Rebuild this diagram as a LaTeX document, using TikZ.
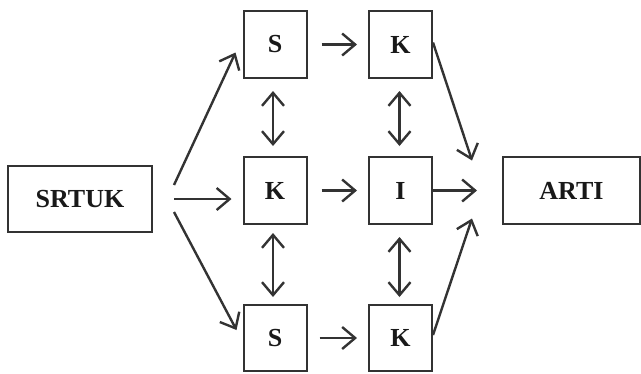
\documentclass[tikz,border=0pt]{standalone}
\usepackage{fontspec}
\setmainfont{Liberation Serif}
\usetikzlibrary{arrows.meta}
\definecolor{ink}{HTML}{333333}
\begin{document}
\begin{tikzpicture}[x=1pt,y=-1pt,
  box/.style={draw=ink,line width=2pt,fill=white,inner sep=0pt,
    font=\fontsize{26}{26}\selectfont\bfseries,text=black!90},
  tip/.style={Straight Barb[length=13pt,width=22pt,line width=2.4pt]},
  arr/.style={draw=ink,line width=2.4pt,-{Straight Barb[length=13pt,width=22pt]}},
  darr/.style={draw=ink,line width=2.4pt,{Straight Barb[length=13pt,width=22pt]}-{Straight Barb[length=13pt,width=22pt]}}
]
\useasboundingbox (0,0) rectangle (641,373);

% boxes
\node[box,minimum width=144pt,minimum height=66pt] (srtuk) at (80,199) {SRTUK};
\node[box,minimum width=63pt,minimum height=67pt] (s1) at (275,44.5) {S};
\node[box,minimum width=63pt,minimum height=67pt] (k1) at (400.5,44.5) {K};
\node[box,minimum width=63pt,minimum height=67pt] (k2) at (275,190.5) {K};
\node[box,minimum width=63pt,minimum height=67pt] (i2) at (400.5,190.5) {I};
\node[box,minimum width=63pt,minimum height=66pt] (s3) at (275,338) {S};
\node[box,minimum width=63pt,minimum height=66pt] (k3) at (400.5,338) {K};
\node[box,minimum width=137pt,minimum height=67pt] (arti) at (571.5,190.5) {ARTI};

% fan-out from SRTUK
\draw[arr] ([xshift=21pt,yshift=14pt]srtuk.east) -- ([xshift=-7pt,yshift=-8pt]s1.west);
\draw[arr,shorten <=21pt,shorten >=11pt] (srtuk.east) -- (srtuk.east -| k2.west);
\draw[arr] ([xshift=21pt,yshift=-13pt]srtuk.east) -- ([xshift=-6pt,yshift=8pt]s3.west);

% rows
\draw[arr,shorten <=14pt,shorten >=11pt] (s1.east) -- (k1.west);
\draw[arr,shorten <=14pt,shorten >=11pt] (k2.east) -- (i2.west);
\draw[arr,shorten <=12pt,shorten >=11pt] (s3.east) -- (k3.west);

% vertical links
\draw[darr,shorten <=12pt,shorten >=10pt] ([xshift=-2pt]s1.south) -- ([xshift=-2pt]k2.north);
\draw[darr,shorten <=8pt,shorten >=7pt] ([xshift=-2pt]k2.south) -- ([xshift=-2pt]s3.north);
\draw[darr,shorten <=12pt,shorten >=10pt] ([xshift=-1pt]k1.south) -- ([xshift=-1pt]i2.north);
\draw[darr,shorten <=12pt,shorten >=7pt] ([xshift=-1pt]i2.south) -- ([xshift=-1pt]k3.north);

% convergence to ARTI
\coordinate (ta) at ([xshift=-30pt,yshift=30pt]arti.west);
\coordinate (tb) at ([xshift=-30pt,yshift=-28pt]arti.west);
\draw[arr] ([yshift=2pt]k1.east) -- (ta);
\draw[arr,shorten >=25pt] (i2.east) -- (arti.west);
\draw[arr] ([yshift=3pt]k3.east) -- (tb);
\end{tikzpicture}
\end{document}
